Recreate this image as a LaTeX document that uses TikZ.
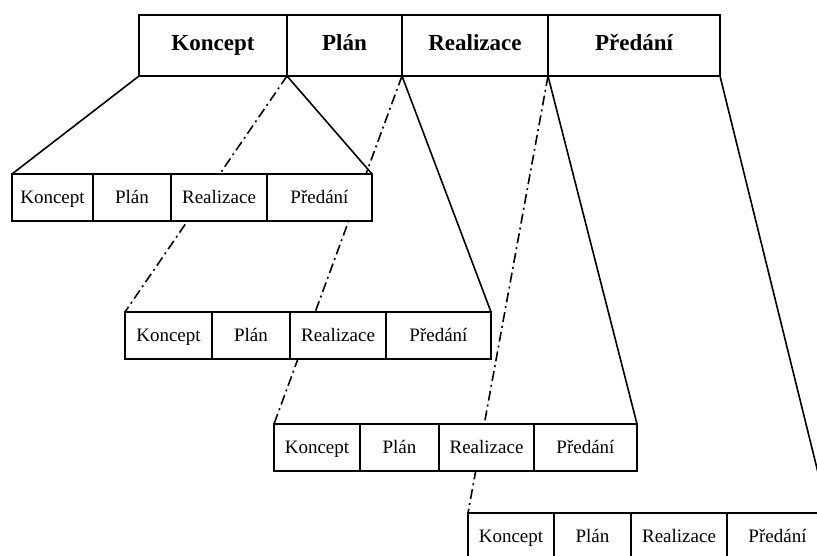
\documentclass[tikz,border=0pt]{standalone}
\usepackage{fontspec}
\setmainfont{Liberation Serif}
\usetikzlibrary{backgrounds}
\begin{document}
\begin{tikzpicture}[x=1pt,y=-1pt,
  topcell/.style={draw, line width=1.8pt, fill=white, anchor=north west, outer sep=0pt,
    minimum height=61pt, inner sep=0pt, text height=15pt, text depth=6pt,
    font=\fontsize{23}{26}\selectfont\bfseries},
  subcell/.style={draw, line width=1.7pt, fill=white, anchor=north west, outer sep=0pt,
    minimum height=47pt, inner sep=0pt, text height=13pt, text depth=2pt,
    font=\fontsize{19}{22}\selectfont},
  solidlink/.style={line width=1.6pt},
  dashlink/.style={line width=1.6pt, dash pattern=on 10pt off 4pt on 2pt off 4pt}
]
\useasboundingbox (0,0) rectangle (817,555);
% top bar
\node[topcell, minimum width=148pt] (tK) at (139,15) {Koncept};
\node[topcell, minimum width=115pt] (tP) at (287,15) {Plán};
\node[topcell, minimum width=146pt] (tR) at (402,15) {Realizace};
\node[topcell, minimum width=172pt] (tD) at (548,15) {Předání};
% box 1
\node[subcell, minimum width=81pt] (aK) at (12,174) {Koncept};
\node[subcell, minimum width=78pt] (aP) at (93,174) {Plán};
\node[subcell, minimum width=96pt] (aR) at (171,174) {Realizace};
\node[subcell, minimum width=105pt] (aD) at (267,174) {Předání};
% box 2
\node[subcell, minimum width=87pt] (bK) at (125,312) {Koncept};
\node[subcell, minimum width=78pt] (bP) at (212,312) {Plán};
\node[subcell, minimum width=96pt] (bR) at (290,312) {Realizace};
\node[subcell, minimum width=105pt] (bD) at (386,312) {Předání};
% box 3
\node[subcell, minimum width=86pt] (cK) at (274,424) {Koncept};
\node[subcell, minimum width=79pt] (cP) at (360,424) {Plán};
\node[subcell, minimum width=95pt] (cR) at (439,424) {Realizace};
\node[subcell, minimum width=103pt] (cD) at (534,424) {Předání};
% box 4
\node[subcell, minimum width=86pt] (dK) at (468,513) {Koncept};
\node[subcell, minimum width=77pt] (dP) at (554,513) {Plán};
\node[subcell, minimum width=96pt] (dR) at (631,513) {Realizace};
\node[subcell, minimum width=101pt] (dD) at (727,513) {Předání};
% connectors behind boxes
\begin{scope}[on background layer]
\draw[solidlink] (tK.south west) -- (aK.north west);
\draw[solidlink] (tK.south east) -- (aD.north east);
\draw[dashlink] (tP.south west) -- (bK.north west);
\draw[solidlink] (tP.south east) -- (bD.north east);
\draw[dashlink] (tR.south west) -- (cK.north west);
\draw[solidlink] (tR.south east) -- (cD.north east);
\draw[dashlink] (tD.south west) -- (dK.north west);
\draw[solidlink] (tD.south east) -- (dD.north east);
\end{scope}
\end{tikzpicture}
\end{document}
